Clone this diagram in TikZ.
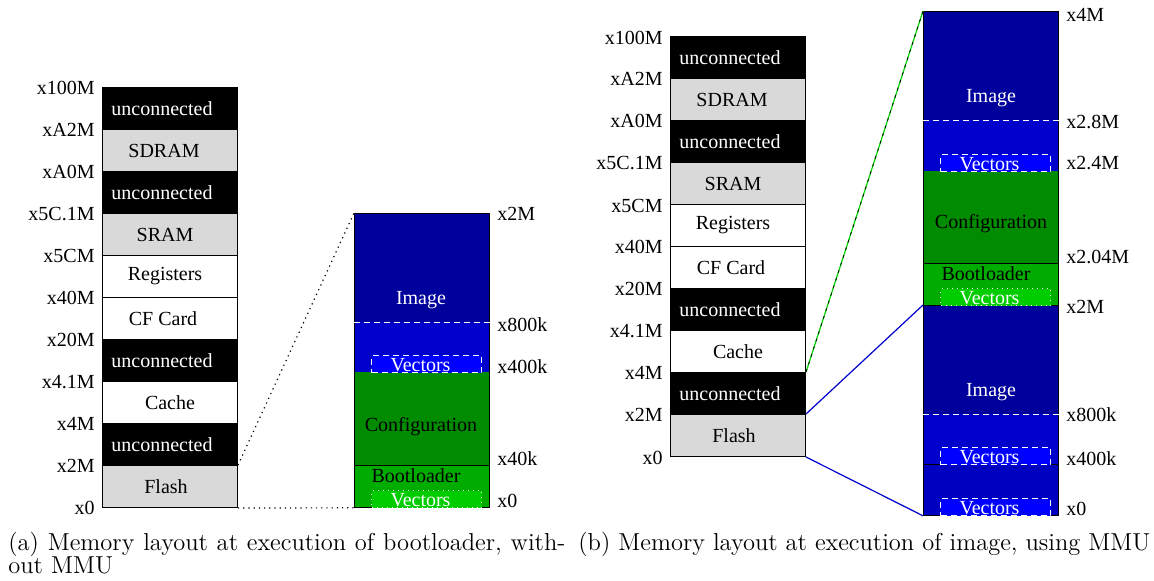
\documentclass[tikz,border=0pt]{standalone}
\usepackage{fontspec}
\newfontfamily\tms{Liberation Serif}
\definecolor{dkblue}{RGB}{0,0,156}
\definecolor{mdblue}{RGB}{0,0,204}
\definecolor{ltblue}{RGB}{0,0,255}
\definecolor{dkgreen}{RGB}{0,139,0}
\definecolor{mdgreen}{RGB}{0,172,0}
\definecolor{ltgreen}{RGB}{0,204,0}
\definecolor{memgray}{RGB}{217,217,217}
\begin{document}
\begin{tikzpicture}[x=0.5pt,y=-0.5pt,
  font=\tms\fontsize{10}{12}\selectfont,
  row/.style={draw=black, line width=0.5pt, minimum width=67.5pt, minimum height=21pt, inner sep=0pt, anchor=north west},
  unc/.style={row, fill=black, text=white},
  gry/.style={row, fill=memgray},
  wht/.style={row, fill=white},
  zs/.style={minimum width=67.5pt, inner sep=0pt, anchor=north west},
  border/.style={draw=black, line width=0.5pt},
  lbl/.style={anchor=east, inner sep=0pt},
  rlbl/.style={anchor=west, inner sep=0pt},
  wdash/.style={draw=white, line width=0.5pt, dash pattern=on 3pt off 2pt},
  vec/.style={minimum width=55pt, inner xsep=0pt, inner ysep=0.5pt, text height=7.5pt, text depth=0pt, anchor=north west, text=white, line width=0.5pt},
  vecb/.style={vec, fill=ltblue, wdash},
  vecg/.style={vec, fill=ltgreen, draw=white, dotted},
  captext/.style={anchor=base west, inner sep=0pt, font=\normalfont\fontsize{12.25}{14}\selectfont},
]
\useasboundingbox (0,0) rectangle (1154,580);

% ---------- (a) left memory map ----------
\node[unc] (a1) at (102,87) {\hspace*{-8pt}unconnected};
\node[gry] (a2) at (102,129) {\hspace*{-6pt}SDRAM};
\node[unc] (a3) at (102,171) {\hspace*{-8pt}unconnected};
\node[gry] (a4) at (102,213) {\hspace*{-5pt}SRAM};
\node[wht] (a5) at (102,255) {\hspace*{-5pt}Registers};
\node[wht] (a6) at (102,297) {\hspace*{-7pt}CF Card};
\node[unc] (a7) at (102,339) {\hspace*{-8pt}unconnected};
\node[wht] (a8) at (102,381) {Cache};
\node[unc] (a9) at (102,423) {\hspace*{-8pt}unconnected};
\node[gry] (a10) at (102,465) {\hspace*{-4pt}Flash};

\node[lbl] (la0) at (95,88) {x100M};
\node[lbl] (la1) at (95,130) {xA2M};
\node[lbl] (la2) at (95,172) {xA0M};
\node[lbl] (la3) at (95,214) {x5C.1M};
\node[lbl] (la4) at (95,256) {x5CM};
\node[lbl] (la5) at (95,298) {x40M};
\node[lbl] (la6) at (95,340) {x20M};
\node[lbl] (la7) at (95,382) {x4.1M};
\node[lbl] (la8) at (95,424) {x4M};
\node[lbl] (la9) at (95,466) {x2M};
\node[lbl] (la10) at (95,508) {x0};

% ---------- (a) zoomed flash ----------
\node[zs, fill=dkblue, minimum height=54.5pt] (imgA) at (354,213) {};
\node[zs, fill=mdblue, minimum height=25pt] (imgvA) at (354,322) {};
\node[zs, fill=dkgreen, minimum height=46.5pt] (cfgA) at (354,372) {};
\node[zs, fill=mdgreen, minimum height=21pt] (bootA) at (354,465) {};
\draw[border] (imgA.north west) rectangle (bootA.south east);
\draw[border] (bootA.north west) -- (bootA.north east);
\draw[wdash] (imgvA.north west) -- (imgvA.north east);
\node[text=white] (tImgA) at (421,300) {Image};
\node (tCfgA) at (421,427) {Configuration};
\node (tBootA) at (416,476) {Bootloader};
\node[vecb] (vA1) at (371,355) {\hspace*{-6pt}Vectors};
\node[vecg] (vA0) at (371,490) {\hspace*{-6pt}Vectors};

\node[rlbl] (ra0) at (497,214) {x2M};
\node[rlbl] (ra1) at (497,325) {x800k};
\node[rlbl] (ra2) at (497,367) {x400k};
\node[rlbl] (ra3) at (497,459) {x40k};
\node[rlbl] (ra4) at (497,501) {x0};

\draw[dotted, line width=0.6pt] (a10.north east) -- (imgA.north west);
\draw[dotted, line width=0.6pt] (a10.south east) -- (bootA.south west);

% ---------- (b) right memory map ----------
\node[unc] (b1) at (670,36) {\hspace*{-8pt}unconnected};
\node[gry] (b2) at (670,78) {\hspace*{-6pt}SDRAM};
\node[unc] (b3) at (670,120) {\hspace*{-8pt}unconnected};
\node[gry] (b4) at (670,162) {\hspace*{-5pt}SRAM};
\node[wht] (b5) at (670,204) {\hspace*{-5pt}Registers};
\node[wht] (b6) at (670,246) {\hspace*{-7pt}CF Card};
\node[unc] (b7) at (670,288) {\hspace*{-8pt}unconnected};
\node[wht] (b8) at (670,330) {Cache};
\node[unc] (b9) at (670,372) {\hspace*{-8pt}unconnected};
\node[gry] (b10) at (670,414) {\hspace*{-4pt}Flash};

\node[lbl] (lb0) at (663,38) {x100M};
\node[lbl] (lb1) at (663,79) {xA2M};
\node[lbl] (lb2) at (663,121) {xA0M};
\node[lbl] (lb3) at (663,163) {x5C.1M};
\node[lbl] (lb4) at (663,206) {x5CM};
\node[lbl] (lb5) at (663,247) {x40M};
\node[lbl] (lb6) at (663,289) {x20M};
\node[lbl] (lb7) at (663,331) {x4.1M};
\node[lbl] (lb8) at (663,373) {x4M};
\node[lbl] (lb9) at (663,415) {x2M};
\node[lbl] (lb10) at (663,458) {x0};

% ---------- (b) zoomed region ----------
\node[zs, fill=dkblue, minimum height=54.5pt] (imgB) at (923,11) {};
\node[zs, fill=mdblue, minimum height=25.5pt] (imgvB) at (923,120) {};
\node[zs, fill=dkgreen, minimum height=46pt] (cfgB) at (923,171) {};
\node[zs, fill=mdgreen, minimum height=21pt] (bootB) at (923,263) {};
\node[zs, fill=dkblue, minimum height=54.5pt] (img2B) at (923,305) {};
\node[zs, fill=mdblue, minimum height=25pt] (img2vB) at (923,414) {};
\node[zs, fill=mdblue!94!black, minimum height=25.5pt] (img3B) at (923,464) {};
\draw[border] (imgB.north west) rectangle (img3B.south east);
\draw[border] (bootB.north west) -- (bootB.north east);
\draw[border] (img2B.north west) -- (img2B.north east);
\draw[border] (img3B.north west) -- (img3B.north east);
\draw[wdash] (imgvB.north west) -- (imgvB.north east);
\draw[wdash] (img2vB.north west) -- (img2vB.north east);
\node[text=white] (tImgB) at (991,98) {Image};
\node (tCfgB) at (991,224) {Configuration};
\node (tBootB) at (986,274) {Bootloader};
\node[text=white] (tImg2B) at (991,392) {Image};
\node[vecb] (vB1) at (940,154) {\hspace*{-6pt}Vectors};
\node[vecg] (vB0) at (940,288) {\hspace*{-6pt}Vectors};
\node[vecb] (vB2) at (940,447) {\hspace*{-6pt}Vectors};
\node[vecb] (vB3) at (940,498) {\hspace*{-6pt}Vectors};

\node[rlbl] (rb0) at (1066,15) {x4M};
\node[rlbl] (rb1) at (1066,122) {x2.8M};
\node[rlbl] (rb2) at (1066,163) {x2.4M};
\node[rlbl] (rb3) at (1066,257) {x2.04M};
\node[rlbl] (rb4) at (1066,307) {x2M};
\node[rlbl] (rb5) at (1066,415) {x800k};
\node[rlbl] (rb6) at (1066,459) {x400k};
\node[rlbl] (rb7) at (1066,509) {x0};

\draw[green!85!black, line width=0.6pt] (b9.north east) -- (imgB.north west);
\draw[black, line width=0.4pt, dash pattern=on 1.5pt off 2.5pt] (b9.north east) -- (imgB.north west);
\draw[blue!80!black, line width=0.6pt] (b10.north east) -- (img2B.north west);
\draw[blue!80!black, line width=0.6pt] (b10.south east) -- (img3B.south west);

% ---------- captions ----------
\node[captext] (capA1) at (8,550) {\hbox to 278.5pt{(a) Memory layout at execution of bootloader, with-}};
\node[captext] (capA2) at (8,573) {out MMU};
\node[captext] (capB) at (578,550) {(b) Memory layout at execution of image, using MMU};
\end{tikzpicture}
\end{document}
